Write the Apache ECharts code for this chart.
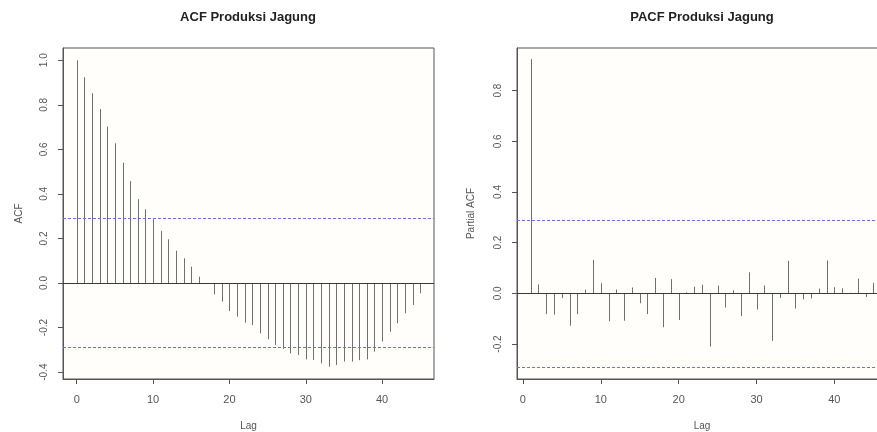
<!DOCTYPE html>
<html>
<head>
<meta charset="utf-8">
<script src="https://cdn.jsdelivr.net/npm/echarts@6/dist/echarts.min.js"></script>
<style>
  html, body { margin: 0; padding: 0; background: #fff; overflow: hidden; }
  #chart { width: 877px; height: 432px; }
</style>
</head>
<body>
<div id="chart"></div>
<script>
// ACF / PACF produksi jagung
const acfLags = [0, 1, 2, 3, 4, 5, 6, 7, 8, 9, 10, 11, 12, 13, 14, 15, 16, 17, 18, 19, 20, 21, 22,
  23, 24, 25, 26, 27, 28, 29, 30, 31, 32, 33, 34, 35, 36, 37, 38, 39, 40, 41, 42, 43, 44, 45];
const acfValues = [1.000, 0.924, 0.852, 0.781, 0.702, 0.627, 0.540, 0.457, 0.376, 0.331, 0.286,
  0.234, 0.196, 0.145, 0.111, 0.073, 0.028, -0.004, -0.051, -0.084, -0.126, -0.151, -0.178,
  -0.189, -0.226, -0.253, -0.278, -0.296, -0.316, -0.323, -0.343, -0.346, -0.361, -0.376,
  -0.368, -0.353, -0.353, -0.346, -0.343, -0.308, -0.263, -0.219, -0.181, -0.136, -0.099, -0.046];

const pacfLags = [1, 2, 3, 4, 5, 6, 7, 8, 9, 10, 11, 12, 13, 14, 15, 16, 17, 18, 19, 20, 21, 22,
  23, 24, 25, 26, 27, 28, 29, 30, 31, 32, 33, 34, 35, 36, 37, 38, 39, 40, 41, 42, 43, 44, 45];
const pacfValues = [0.924, 0.035, -0.082, -0.084, -0.019, -0.128, -0.082, 0.014, 0.132, 0.040,
  -0.110, 0.015, -0.108, 0.023, -0.039, -0.082, 0.061, -0.134, 0.056, -0.105, 0.004, 0.026,
  0.034, -0.210, 0.030, -0.056, 0.012, -0.090, 0.083, -0.064, 0.031, -0.188, -0.018, 0.128,
  -0.060, -0.024, -0.020, 0.019, 0.130, 0.024, 0.020, 0.002, 0.058, -0.015, 0.041];

const ciBound = 0.289; // batas signifikansi

const lagTicks = [0, 10, 20, 30, 40];
const acfTicks = [-0.4, -0.2, 0.0, 0.2, 0.4, 0.6, 0.8, 1.0];
const pacfTicks = [-0.2, 0.0, 0.2, 0.4, 0.6, 0.8];

const FONT = '"Liberation Sans", Arial, sans-serif';
const chart = echarts.init(document.getElementById('chart'), null, { renderer: 'canvas' });

// garis vertikal (type = "h" di R)
function stem(params, api) {
  const p0 = api.coord([api.value(0), 0]);
  const p1 = api.coord([api.value(0), api.value(1)]);
  const x = Math.round(p0[0]) + 0.5;
  return {
    type: 'line',
    shape: { x1: x, y1: p0[1], x2: x, y2: p1[1] },
    style: { stroke: '#707070', lineWidth: 1 }
  };
}

// garis nol
function zeroLine() {
  return {
    symbol: 'none', silent: true, label: { show: false },
    lineStyle: { color: '#3a3a3a', width: 1, type: 'solid' },
    data: [{ yAxis: 0 }]
  };
}

// batas kepercayaan biru putus-putus
function ciSeries(idx) {
  return {
    type: 'line', xAxisIndex: idx, yAxisIndex: idx, data: [], silent: true,
    markLine: {
      symbol: 'none', silent: true, label: { show: false },
      lineStyle: { color: '#6c6cf0', width: 1, type: [3, 2], opacity: 1 },
      emphasis: { disabled: true },
      data: [{ yAxis: ciBound }, { yAxis: -ciBound }]
    }
  };
}

function xAxisOf(idx, min, max) {
  return {
    type: 'value', gridIndex: idx, min: min, max: max, position: 'bottom',
    name: 'Lag', nameLocation: 'middle', nameGap: 42,
    nameTextStyle: { fontFamily: FONT, fontSize: 10, color: '#555' },
    axisLine: { show: true, onZero: false, lineStyle: { color: '#555' } },
    splitLine: { show: false },
    axisTick: { show: true, inside: false, length: 5, customValues: lagTicks, lineStyle: { color: '#555', width: 1 } },
    axisLabel: { customValues: lagTicks, margin: 15, fontFamily: FONT, fontSize: 11, color: '#555' }
  };
}

function yAxisOf(idx, min, max, ticks, name, gap) {
  return {
    type: 'value', gridIndex: idx, min: min, max: max, position: 'left',
    name: name, nameLocation: 'middle', nameGap: gap, nameRotate: 90,
    nameTextStyle: { fontFamily: FONT, fontSize: 10, color: '#555' },
    axisLine: { show: true, onZero: false, lineStyle: { color: '#555' } },
    splitLine: { show: false },
    axisTick: { show: true, inside: false, length: 5, customValues: ticks, lineStyle: { color: '#555', width: 1 } },
    axisLabel: {
      customValues: ticks, rotate: 90, margin: 14,
      fontFamily: FONT, fontSize: 10, color: '#555',
      formatter: v => v.toFixed(1)
    }
  };
}

const option = {
  animation: false,
  backgroundColor: '#ffffff',
  graphic: [
    { type: 'text', x: 248, y: 11, style: { text: 'ACF Produksi Jagung', align: 'center',
      font: 'bold 13px ' + FONT, fill: '#222' } },
    { type: 'text', x: 702, y: 11, style: { text: 'PACF Produksi Jagung', align: 'center',
      font: 'bold 13px ' + FONT, fill: '#222' } }
  ],
  grid: [
    { left: 63, top: 48, width: 371, height: 331, show: true, outerBoundsMode: 'none',
      containLabel: false, borderColor: '#555', borderWidth: 1, backgroundColor: '#fffefa' },
    { left: 517, top: 48, width: 370, height: 331, show: true, outerBoundsMode: 'none',
      containLabel: false, borderColor: '#555', borderWidth: 1, backgroundColor: '#fffefa' }
  ],
  xAxis: [
    xAxisOf(0, -1.8, 46.8),
    xAxisOf(1, -0.76, 46.76)
  ],
  yAxis: [
    yAxisOf(0, -0.431, 1.055, acfTicks, 'ACF', 39),
    yAxisOf(1, -0.338, 0.968, pacfTicks, 'Partial ACF', 41)
  ],
  series: [
    ciSeries(0),
    ciSeries(1),
    {
      type: 'custom', xAxisIndex: 0, yAxisIndex: 0,
      renderItem: stem, encode: { x: 0, y: 1 },
      data: acfLags.map((l, i) => [l, acfValues[i]]),
      markLine: zeroLine()
    },
    {
      type: 'custom', xAxisIndex: 1, yAxisIndex: 1,
      renderItem: stem, encode: { x: 0, y: 1 },
      data: pacfLags.map((l, i) => [l, pacfValues[i]]),
      markLine: zeroLine()
    }
  ]
};

chart.setOption(option);
</script>
</body>
</html>
